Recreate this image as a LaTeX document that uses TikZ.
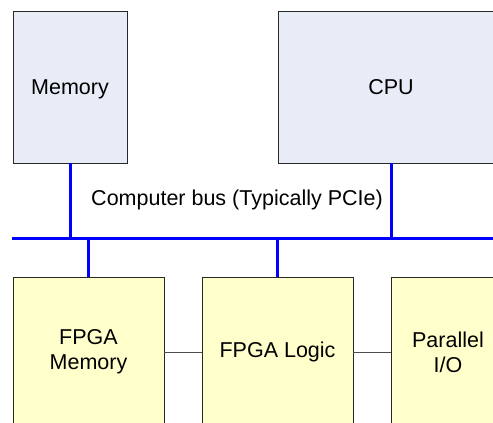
\documentclass[tikz,border=0pt]{standalone}
\usepackage{fontspec}
\setmainfont{Liberation Sans}
\usetikzlibrary{positioning}

\definecolor{hostfill}{RGB}{232,236,246}
\definecolor{fpgafill}{RGB}{255,255,204}
\definecolor{boxline}{RGB}{40,40,40}

\begin{document}
\begin{tikzpicture}[
    x=1pt, y=-1pt,
    font=\fontsize{21.5}{25}\selectfont,
    hostnode/.style={draw=boxline,fill=hostfill,line width=0.8pt,minimum height=152pt,align=center,inner sep=0pt,text depth=0pt},
    fpganode/.style={draw=boxline,fill=fpgafill,line width=0.8pt,minimum height=150pt,align=center,inner sep=0pt},
    bus/.style={draw=blue,line width=3pt},
    link/.style={draw=black!70,line width=0.8pt}
    ]

    \useasboundingbox (0,0) rectangle (493,423);

    \node[hostnode, minimum width=114pt] (mem) at (70,87) {Memory};
    \node[hostnode, minimum width=226pt] (cpu) at (391,87) {CPU};

    \coordinate (busL) at (12,238);
    \coordinate (busR) at (510,238);
    \node (buslabel) at (237,200) {Computer bus (Typically PCIe)};

    \node[fpganode, minimum width=151pt] (fmem) at (88.5,352) {FPGA\\Memory};
    \node[fpganode, minimum width=151pt] (flogic) at (277.5,352) {FPGA Logic};
    \node[fpganode, minimum width=114pt] (pio) at (448,352) {Parallel\\I/O};

    \path[bus] (busL) -- (busR);
    \path[bus] (mem.south) -- (mem.south |- busL)
    (cpu.south) -- (cpu.south |- busL)
    (fmem.north) -- (fmem.north |- busL)
    (flogic.north) -- (flogic.north |- busL);

    \path[link] (fmem) -- (flogic)
    (flogic) -- (pio);

\end{tikzpicture}
\end{document}
